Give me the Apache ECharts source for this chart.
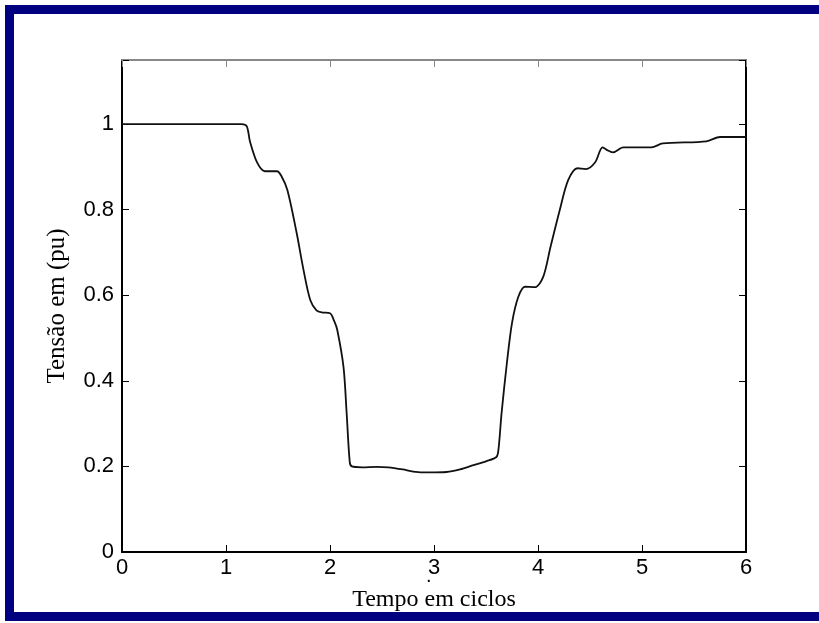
<!DOCTYPE html>
<html>
<head>
<meta charset="utf-8">
<script src="https://cdn.jsdelivr.net/npm/echarts@6/dist/echarts.min.js"></script>
<style>
  html, body { margin: 0; padding: 0; background: #fff; }
  #wrap { position: relative; width: 819px; height: 623px; overflow: hidden; }
  #chart { position: absolute; left: 0; top: 0; width: 819px; height: 623px; }
  #frame { position: absolute; left: 5px; top: 5px; width: 900px; height: 598px;
           border: 9px solid #000080; pointer-events: none; }
</style>
</head>
<body>
<div id="wrap">
  <div id="chart"></div>
  <div id="frame"></div>
</div>
<script>
// tempo (ciclos) e tensão (pu)
const tempo = [0, 1.15, 1.2, 1.23, 1.3, 1.375, 1.49, 1.53, 1.59, 1.68, 1.74, 1.81, 1.87, 1.92, 2.0, 2.04,
  2.07, 2.13, 2.16, 2.19, 2.21, 2.31, 2.45, 2.56, 2.7, 2.8, 2.95, 3.12, 3.25, 3.38, 3.5, 3.6, 3.62,
  3.65, 3.7, 3.75, 3.81, 3.875, 3.97, 4.05, 4.12, 4.21, 4.29, 4.38, 4.46, 4.55, 4.62, 4.66, 4.72,
  4.82, 5.09, 5.2, 5.62, 5.75, 6.0]
const tensao = [1, 1, 0.995, 0.96, 0.91, 0.89, 0.89, 0.88, 0.846, 0.745, 0.666, 0.589, 0.565, 0.56, 0.558, 0.54,
  0.519, 0.432, 0.325, 0.21, 0.2, 0.198, 0.199, 0.198, 0.193, 0.188, 0.186, 0.187, 0.193, 0.203, 0.212, 0.222, 0.24,
  0.325, 0.44, 0.535, 0.596, 0.62, 0.619, 0.643, 0.713, 0.8, 0.869, 0.897, 0.895, 0.911, 0.946, 0.94, 0.934,
  0.946, 0.946, 0.955, 0.96, 0.97, 0.97]
const xTicks = ['0', '1', '2', '3', '4', '5', '6']
const yTicks = ['0', '0.2', '0.4', '0.6', '0.8', '1']

const pts = tempo.map((t, i) => [t, tensao[i]])
const tickFont = { fontFamily: 'Liberation Sans, Arial, sans-serif', fontSize: 22, color: '#000' }
const titleFont = 'Liberation Serif, Times New Roman, serif'

const chart = echarts.init(document.getElementById('chart'))
chart.setOption({
  animation: false,
  grid: { left: 122, right: 73, top: 60, bottom: 71 },
  xAxis: [
    {
      type: 'value', min: 0, max: 6, interval: 1,
      axisLine: { onZero: false, lineStyle: { color: '#000', width: 2 } },
      axisTick: { inside: true, length: 7, lineStyle: { color: '#000' } },
      splitLine: { show: false },
      axisLabel: Object.assign({ margin: 5, formatter: v => xTicks[Math.round(v)] }, tickFont),
      name: 'Tempo em ciclos', nameLocation: 'middle', nameGap: 36,
      nameTextStyle: { fontFamily: titleFont, fontSize: 24, color: '#000' }
    },
    {
      type: 'value', min: 0, max: 6, interval: 1, position: 'top',
      axisLine: { onZero: false, lineStyle: { color: '#888', width: 2 } },
      axisTick: { inside: true, length: 7, lineStyle: { color: '#888' } },
      axisLabel: { show: false }, splitLine: { show: false }
    }
  ],
  yAxis: [
    {
      type: 'value', min: 0, max: 1.15, interval: 0.2,
      axisLine: { onZero: false, lineStyle: { color: '#000', width: 2 } },
      axisTick: { inside: true, length: 7, lineStyle: { color: '#000' } },
      splitLine: { show: false },
      axisLabel: Object.assign({
        margin: 8,
        formatter: v => { const k = Math.round(v / 0.2); return Math.abs(v - k * 0.2) < 1e-6 ? yTicks[k] : '' }
      }, tickFont),
      name: 'Tensão em (pu)', nameLocation: 'middle', nameGap: 52, nameRotate: 90,
      nameTextStyle: { fontFamily: titleFont, fontSize: 25, color: '#000' }
    },
    {
      type: 'value', min: 0, max: 1.15, interval: 0.2, position: 'right',
      axisLine: { onZero: false, lineStyle: { color: '#000', width: 2 } },
      axisTick: { inside: true, length: 7, lineStyle: { color: '#000' } },
      axisLabel: { show: false }, splitLine: { show: false }
    }
  ],
  graphic: [
    { type: 'text', left: 426, top: 566, style: { text: '.', fontSize: 20, fill: '#000' } }
  ],
  series: [{
    type: 'line', data: pts, showSymbol: false, smooth: 0.3,
    lineStyle: { color: '#111', width: 1.8 }
  }]
})
</script>
</body>
</html>
